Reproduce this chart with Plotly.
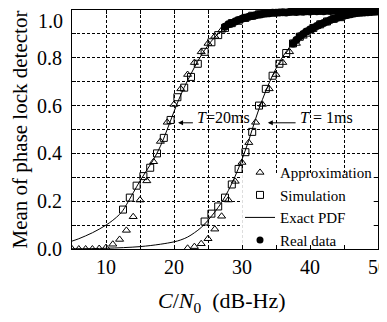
import plotly.graph_objects as go

# ---- data ----
# T = 20 ms
cn_app20 = [5, 6, 7, 8, 9, 10, 11, 12, 13, 14, 15, 16, 17, 18, 19, 20, 21, 22, 23, 24, 25,
            26, 27, 28, 29, 30, 31, 32, 33, 34, 35]
app20 = [0.0, 0.0, 0.0, 0.0, 0.002, 0.006, 0.02, 0.04, 0.078, 0.135, 0.205, 0.285, 0.365,
         0.45, 0.53, 0.605, 0.67, 0.73, 0.78, 0.825, 0.86, 0.89, 0.915, 0.935, 0.95, 0.962,
         0.972, 0.979, 0.984, 0.988, 0.991]
cn_sim20 = [12.5, 13.5, 14.5, 15.5, 16.5, 17.5, 18.5, 19.5, 20.5, 21.5, 22.5, 23.5, 24.5,
            25.5, 26.5, 27.5, 28.5, 29.5, 30.5, 31.5, 32.5, 33.5, 34.5]
sim20 = [0.165, 0.215, 0.265, 0.305, 0.34, 0.40, 0.465, 0.54, 0.635, 0.675, 0.72, 0.775,
         0.825, 0.865, 0.895, 0.925, 0.945, 0.955, 0.967, 0.976, 0.982, 0.987, 0.99]
cn_pdf20 = [5, 6, 7, 8, 9, 10, 11, 12, 12.5, 13, 14, 15, 16, 17, 18, 19, 20, 21, 22, 23, 24,
            25, 26, 27, 28, 29, 30, 31, 32, 34, 36, 38, 40, 45, 50]
pdf20 = [0.033, 0.043, 0.055, 0.068, 0.083, 0.1, 0.12, 0.145, 0.162, 0.185, 0.235, 0.285,
         0.33, 0.375, 0.43, 0.5, 0.575, 0.645, 0.705, 0.76, 0.81, 0.852, 0.886, 0.913,
         0.935, 0.951, 0.963, 0.972, 0.979, 0.988, 0.993, 0.996, 0.997, 0.999, 1.0]
cn_real20 = [27.5, 28, 28.5, 29, 29.5, 30, 30.5, 31, 31.5, 32, 32.5, 33, 33.5, 34, 34.5, 35,
             35.5, 36, 36.5, 37, 37.5, 38, 38.5, 39, 39.5, 40, 40.5, 41, 41.5, 42, 42.5, 43,
             43.5, 44, 44.5, 45, 45.5, 46, 46.5, 47, 47.5, 48, 48.5, 49, 49.5, 50]
real20 = [0.93, 0.94, 0.946, 0.952, 0.958, 0.963, 0.968, 0.972, 0.975, 0.978, 0.981, 0.983,
          0.985, 0.986, 0.988, 0.989, 0.99, 0.991, 0.99, 0.992, 0.993, 0.992, 0.994, 0.993,
          0.995, 0.994, 0.996, 0.995, 0.996, 0.995, 0.997, 0.996, 0.997, 0.996, 0.998,
          0.997, 0.996, 0.998, 0.997, 0.998, 0.997, 0.998, 0.997, 0.998, 0.997, 0.998]
# T = 1 ms
cn_app1 = [22, 23, 24, 25, 26, 27, 28, 29, 30, 31, 32, 33, 34, 35, 36, 37, 38, 39, 40, 41,
           42, 43, 44, 45]
app1 = [0.003, 0.01, 0.022, 0.043, 0.083, 0.137, 0.205, 0.283, 0.362, 0.445, 0.53, 0.605,
        0.67, 0.73, 0.78, 0.825, 0.86, 0.89, 0.912, 0.93, 0.946, 0.958, 0.967, 0.974]
cn_sim1 = [24.5, 25.5, 26.5, 27.5, 28.5, 29.5, 30.5, 31.5, 32.5, 33.5, 34.5, 35.5, 36.5,
           37.5, 38.5, 39.5, 40.5, 41.5, 42.5, 43.5, 44.5]
sim1 = [0.115, 0.148, 0.178, 0.215, 0.27, 0.335, 0.405, 0.49, 0.6, 0.67, 0.725, 0.775, 0.82,
        0.86, 0.888, 0.905, 0.925, 0.94, 0.952, 0.963, 0.97]
cn_pdf1 = [5, 10, 15, 18, 20, 21, 22, 23, 24, 25, 26, 27, 28, 29, 30, 31, 32, 33, 34, 35,
           36, 37, 38, 39, 40, 42, 44, 46, 48, 50]
pdf1 = [0.001, 0.003, 0.01, 0.02, 0.03, 0.038, 0.05, 0.068, 0.09, 0.12, 0.155, 0.195, 0.245,
        0.305, 0.375, 0.455, 0.545, 0.625, 0.695, 0.755, 0.805, 0.845, 0.878, 0.903, 0.922,
        0.95, 0.968, 0.979, 0.986, 0.99]
cn_real1 = [37.5, 38, 38.5, 39, 39.5, 40, 40.5, 41, 41.5, 42, 42.5, 43, 43.5, 44, 44.5, 45,
            45.5, 46, 46.5, 47, 47.5, 48, 48.5, 49, 49.5, 50]
real1 = [0.86, 0.875, 0.89, 0.9, 0.91, 0.918, 0.926, 0.933, 0.94, 0.946, 0.952, 0.958, 0.963,
         0.968, 0.972, 0.976, 0.979, 0.982, 0.985, 0.987, 0.989, 0.99, 0.991, 0.992, 0.993,
         0.994]

x_tickvals = [5, 10, 15, 20, 25, 30, 35, 40, 45, 50]
x_ticktext = ["", "10", "", "20", "", "30", "", "40", "", "50"]
y_tickvals = [0, 0.1, 0.2, 0.3, 0.4, 0.5, 0.6, 0.7, 0.8, 0.9, 1.0]
y_ticktext = ["0.0", "", "0.2", "", "0.4", "", "0.6", "", "0.8", "", ""]
y_top_label = "1.0"
x_title = "<i>C</i>/<i>N</i><sub>0</sub>\u00a0\u00a0(dB-Hz)"
y_title = "Mean of phase lock detector"

FONT = "Liberation Serif"
fig = go.Figure()

tri = dict(symbol="triangle-up-open", size=7, color="black", line=dict(width=1, color="black"))
sq = dict(symbol="square-open", size=7, color="black", line=dict(width=1, color="black"))
dot = dict(symbol="circle", size=8, color="black")

fig.add_trace(go.Scatter(x=cn_pdf20, y=pdf20, mode="lines", line=dict(color="black", width=1, shape="spline"),
                         name="Exact PDF", legendgroup="pdf", showlegend=False))
fig.add_trace(go.Scatter(x=cn_pdf1, y=pdf1, mode="lines", line=dict(color="black", width=1, shape="spline"),
                         name="Exact PDF", legendgroup="pdf", showlegend=False))
fig.add_trace(go.Scatter(x=cn_real20, y=real20, mode="markers", marker=dot, cliponaxis=False,
                         name="Real data", legendgroup="real", showlegend=False))
fig.add_trace(go.Scatter(x=cn_real1, y=real1, mode="markers", marker=dot, cliponaxis=False,
                         name="Real data", legendgroup="real", showlegend=False))
fig.add_trace(go.Scatter(x=cn_app20, y=app20, mode="markers", marker=tri,
                         name="Approximation", legendgroup="app", showlegend=True, legendrank=1))
fig.add_trace(go.Scatter(x=cn_app1, y=app1, mode="markers", marker=tri,
                         name="Approximation", legendgroup="app", showlegend=False))
fig.add_trace(go.Scatter(x=cn_sim20, y=sim20, mode="markers", marker=sq,
                         name="Simulation", legendgroup="sim", showlegend=True, legendrank=2))
fig.add_trace(go.Scatter(x=cn_sim1, y=sim1, mode="markers", marker=sq,
                         name="Simulation", legendgroup="sim", showlegend=False))
fig.add_trace(go.Scatter(x=[None], y=[None], mode="lines", line=dict(color="black", width=1),
                         name="Exact PDF", legendgroup="pdf", showlegend=True, legendrank=3))
fig.add_trace(go.Scatter(x=[None], y=[None], mode="markers", marker=dict(symbol="circle", size=7, color="black"),
                         name="Real data", legendgroup="real", showlegend=True, legendrank=4))

# curve annotations
fig.add_annotation(x=20.6, y=0.528, ax=23.0, ay=0.528, axref="x", ayref="y", xref="x", yref="y",
                   text="", showarrow=True, arrowhead=2, arrowsize=1, arrowwidth=1, arrowcolor="black")
fig.add_annotation(x=23.1, y=0.552, xref="x", yref="y", xanchor="left", yanchor="middle",
                   text="<i>T</i>=20ms", showarrow=False, font=dict(family=FONT, size=16, color="black"))
fig.add_annotation(x=33.8, y=0.528, ax=38.1, ay=0.528, axref="x", ayref="y", xref="x", yref="y",
                   text="", showarrow=True, arrowhead=2, arrowsize=1, arrowwidth=1, arrowcolor="black")
fig.add_annotation(x=38.2, y=0.552, xref="x", yref="y", xanchor="left", yanchor="middle",
                   text="<i>T</i> = 1ms", showarrow=False, font=dict(family=FONT, size=16, color="black"))

# axis titles and the lowered top tick label
fig.add_annotation(x=0, y=1, xref="paper", yref="paper", xanchor="right", yanchor="top",
                   xshift=-7, yshift=2, text=y_top_label, showarrow=False,
                   font=dict(family=FONT, size=20, color="black"))
fig.add_annotation(x=0.5, y=0, xref="paper", yref="paper", xanchor="center", yanchor="middle",
                   xshift=-3, yshift=-53, text=x_title, showarrow=False,
                   font=dict(family=FONT, size=22, color="black"))
fig.add_annotation(x=0, y=0.5, xref="paper", yref="paper", xanchor="center", yanchor="middle",
                   xshift=-53, textangle=-90, text=y_title, showarrow=False,
                   font=dict(family=FONT, size=21, color="black"))

# white panel behind the legend (inset from the frame so axis line and ticks stay visible)
fig.add_shape(type="rect", xref="paper", yref="paper", x0=0.556, x1=0.986, y0=0.018, y1=0.318,
              fillcolor="white", line=dict(width=0), layer="above")

axis_common = dict(showline=True, linecolor="black", linewidth=1, mirror="ticks",
                   ticks="inside", ticklen=4, tickcolor="black", automargin=False,
                   ticklabeloverflow="allow",
                   showgrid=True, gridcolor="black", gridwidth=1, griddash="3px,2px",
                   zeroline=False, tickfont=dict(family=FONT, size=20, color="black"))

fig.update_xaxes(range=[5, 50], tickmode="array", tickvals=x_tickvals, ticktext=x_ticktext,
                 ticklabelstandoff=0, **axis_common)
fig.update_yaxes(range=[0, 1], tickmode="array", tickvals=y_tickvals, ticktext=y_ticktext,
                 ticklabelstandoff=5, **axis_common)

# the page body adds an 8 px offset, so the figure is 8 px smaller and margins adjusted
fig.update_layout(
    template="none",
    width=379, height=314,
    margin=dict(l=64, r=9, t=2, b=73),
    paper_bgcolor="white", plot_bgcolor="white",
    showlegend=True,
    legend=dict(x=1, y=-0.03, xanchor="right", yanchor="bottom", bgcolor="rgba(0,0,0,0)",
                font=dict(family=FONT, size=15, color="black"),
                tracegroupgap=0, itemwidth=30, borderwidth=0,
                traceorder="normal"),
    font=dict(family=FONT, color="black"),
)

fig.write_html("out.html")
